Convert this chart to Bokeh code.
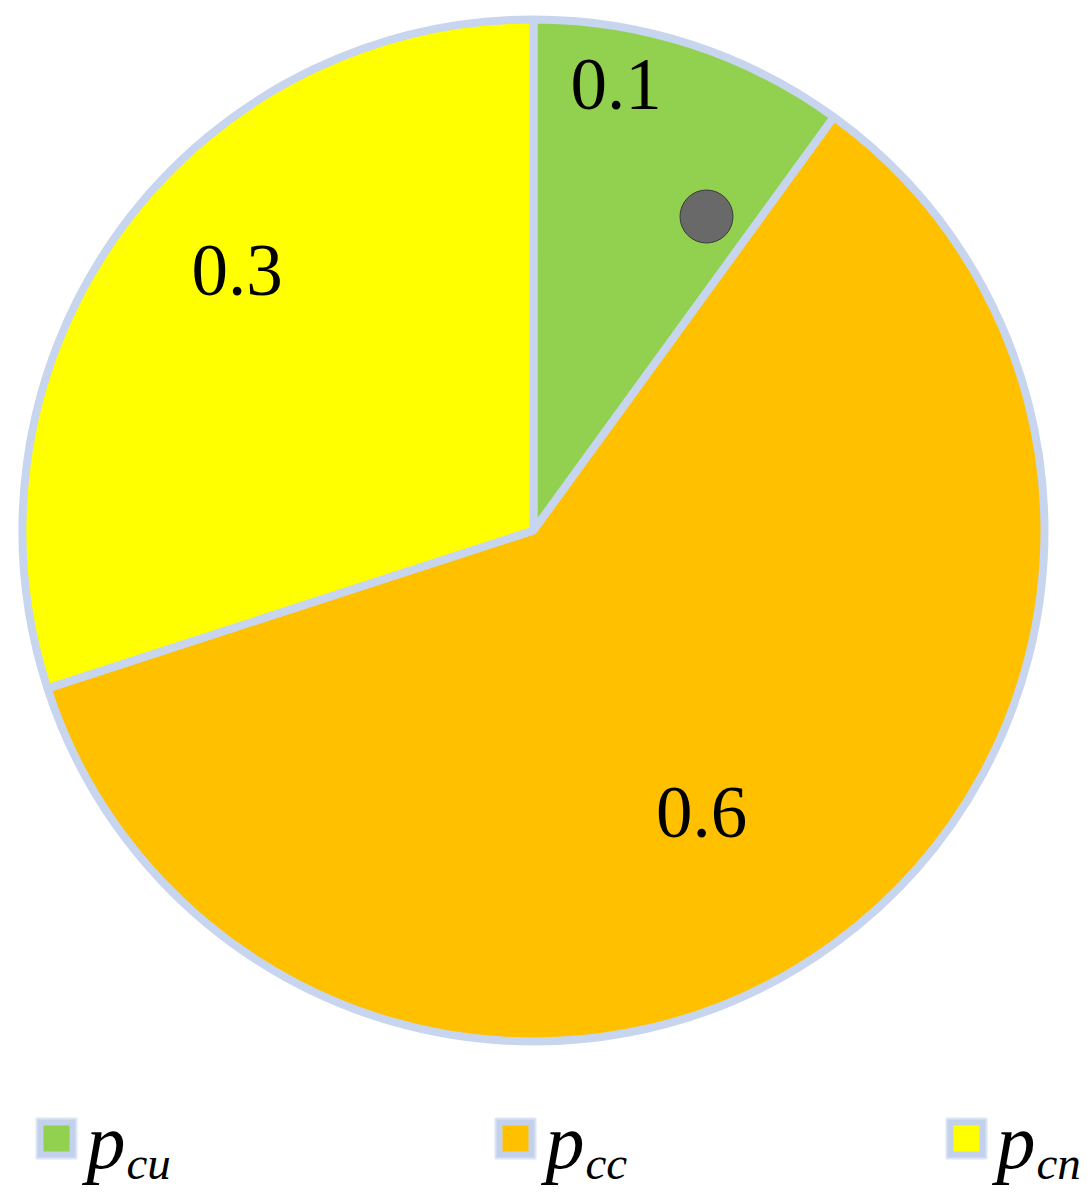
import math
from bokeh.plotting import figure
from bokeh.models import Range1d, ColumnDataSource
from bokeh.core.properties import value
from bokeh.embed import file_html
from bokeh.resources import INLINE

# ---- data ----
categories = ["cu", "cc", "cn"]
shares = [0.1, 0.6, 0.3]
colors = ["#92d050", "#ffc000", "#ffff00"]
label_texts = ["0.1", "0.6", "0.3"]

# label anchor positions (plot units)
label_x = [615.5, 701, 236.5]
label_y = [1112, 384, 926]

# legend item x positions (plot units)
legend_x = [56, 515, 966]

W, H = 1083, 1196
cx, cy, R = 533, 666, 511

p = figure(width=W, height=H, output_backend="svg", toolbar_location=None,
           x_range=Range1d(0, W), y_range=Range1d(0, H),
           x_axis_type=None, y_axis_type=None, min_border=0)
p.grid.visible = False
p.outline_line_color = None
p.background_fill_color = "white"

# wedges, clockwise from 12 o'clock
starts, ends = [], []
cum = 0.0
for s in shares:
    a_end = math.pi / 2 - cum * 2 * math.pi
    cum += s
    a_start = math.pi / 2 - cum * 2 * math.pi
    starts.append(a_start)
    ends.append(a_end)

src = ColumnDataSource(dict(start=starts, end=ends, color=colors))
p.wedge(x=cx, y=cy, radius=R, start_angle="start", end_angle="end",
        fill_color="color", line_color="#c8d5ee", line_width=8, source=src)

# data labels
p.text(x=label_x, y=label_y, text=label_texts, text_font=value("Liberation Serif"),
       text_font_size="73px", text_align="center", text_baseline="alphabetic",
       text_color="black")

# marker dot in green slice
p.circle(x=[706], y=[980], radius=26.5, fill_color="#696969", line_color="#3a3a3a",
         line_width=1)

# legend
ly = 58
p.rect(x=legend_x, y=[ly] * 3, width=40, height=40, fill_color="#c3d1ec",
       line_color="#dce5f4", line_width=2)
p.rect(x=legend_x, y=[ly] * 3, width=26, height=26, fill_color=colors, line_color=None)
p.text(x=[xx + 30 for xx in legend_x], y=[55] * 3, text=["p"] * 3,
       text_font=value("Liberation Serif"), text_font_style="italic",
       text_font_size="78px", text_align="left", text_baseline="alphabetic",
       text_color="black")
p.text(x=[xx + 70 for xx in legend_x], y=[34] * 3, text=categories,
       text_font=value("Liberation Serif"), text_font_style="italic",
       text_font_size="47px", text_align="left", text_baseline="alphabetic",
       text_color="black")

open("out.html", "w").write(file_html(p, INLINE))
